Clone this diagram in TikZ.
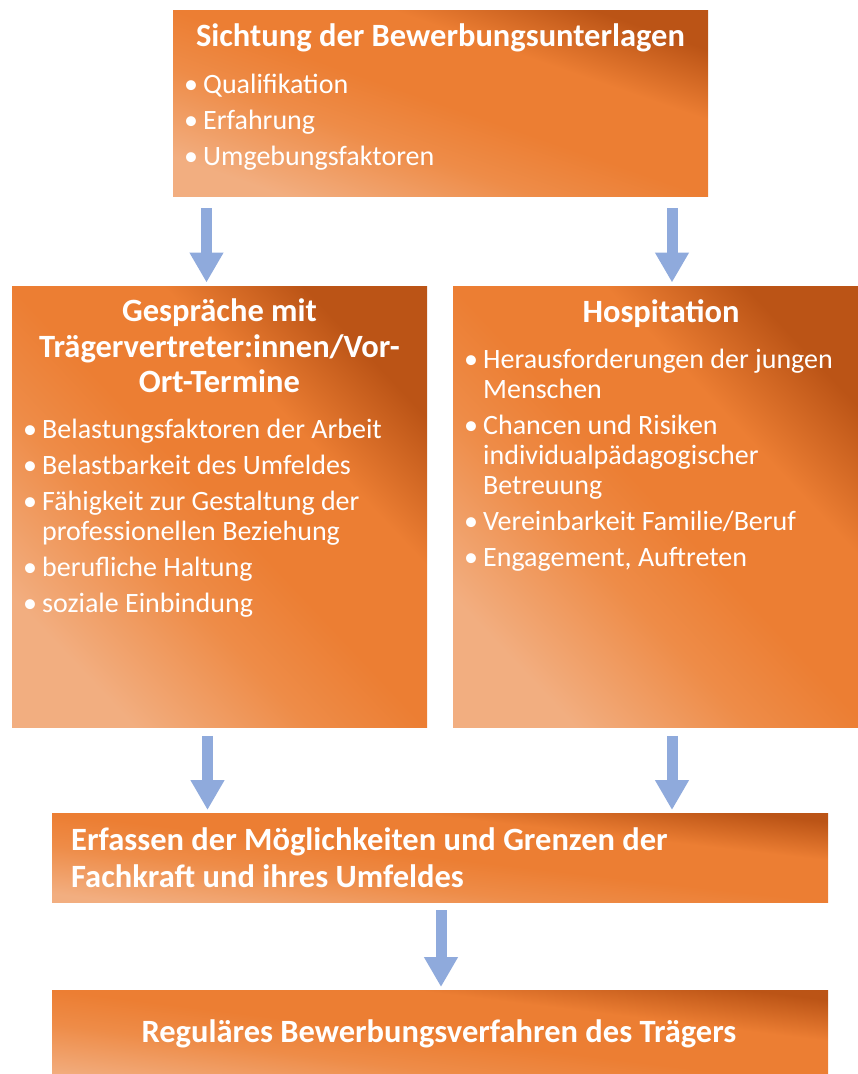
\documentclass[tikz,border=0pt]{standalone}
\usepackage{fontspec}
\setmainfont{Carlito}
\usetikzlibrary{arrows.meta}
\definecolor{boxdark}{HTML}{BB5416}
\definecolor{boxmid}{HTML}{EC7E33}
\definecolor{boxmidl}{HTML}{EE8C48}
\definecolor{boxlight}{HTML}{F2AE80}
\definecolor{arrowblue}{HTML}{8FAADC}
\pgfdeclareverticalshading{orng}{100bp}{color(0bp)=(boxlight); color(25bp)=(boxlight); color(40bp)=(boxmidl); color(50bp)=(boxmid); color(63bp)=(boxmid); color(75bp)=(boxdark); color(100bp)=(boxdark)}
\newcommand{\bitem}[1]{\par\hangindent=19pt\hangafter=1\noindent\makebox[19pt][l]{\textbullet}#1}
\newcommand{\regfont}{\fontsize{28}{30}\selectfont}
\newcommand{\titfont}{\bfseries\fontsize{32.5}{35.5}\selectfont}
\tikzset{
  box/.style={draw=none, shading=orng, inner sep=0pt, anchor=north west},
  txt/.style={inner sep=0pt, text=white},
  flow/.style={draw=arrowblue, line width=11pt, -{Triangle[width=32pt,length=30pt]}},
}
\begin{document}
\begin{tikzpicture}[x=1pt,y=-1pt]
\useasboundingbox (0,0) rectangle (858,1074);
% boxes
\node[box, shading angle=-19.2, minimum width=535pt, minimum height=186pt] (sicht) at (173,10) {};
\node[box, shading angle=-46.7, minimum width=415pt, minimum height=441pt] (gespr) at (12,286.5) {};
\node[box, shading angle=-46.7, minimum width=416pt, minimum height=441pt] (hosp) at (453,286.5) {};
\node[box, shading angle=-6.5, minimum width=776pt, minimum height=89pt] (erf) at (52,813) {};
\node[box, shading angle=-7.0, minimum width=776pt, minimum height=95pt] (reg) at (52,990) {};
% texts
\node[txt, anchor=base] (sichtT) at (440.5,46) {\titfont Sichtung der Bewerbungsunterlagen};
\node[txt, anchor=base west] (sichtL) at (184,93) {\parbox[t]{400pt}{\regfont\raggedright\parskip=6pt
  \bitem{Qualifikation}\bitem{Erfahrung}\bitem{Umgebungsfaktoren}}};
\node[txt, anchor=base] (gesprT) at (219.5,321.5) {\parbox[t]{410pt}{\centering\titfont Gespräche mit\\Trägervertreter:innen/Vor-\\Ort-Termine}};
\node[txt, anchor=base west] (gesprL) at (23,438) {\parbox[t]{400pt}{\regfont\raggedright\parskip=6pt
  \bitem{Belastungsfaktoren der Arbeit}\bitem{Belastbarkeit des Umfeldes}\bitem{Fähigkeit zur Gestaltung der\newline professionellen Beziehung}\bitem{berufliche Haltung}\bitem{soziale Einbindung}}};
\node[txt, anchor=base] (hospT) at (661,322) {\titfont Hospitation};
\node[txt, anchor=base west] (hospL) at (464,368) {\parbox[t]{400pt}{\regfont\raggedright\parskip=6pt
  \bitem{Herausforderungen der jungen\newline Menschen}\bitem{Chancen und Risiken\newline individualpädagogischer\newline Betreuung}\bitem{Vereinbarkeit Familie/Beruf}\bitem{Engagement, Auftreten}}};
\node[txt, anchor=base west] (erfT) at (71,850) {\parbox[t]{720pt}{\raggedright\bfseries\fontsize{32.5}{37}\selectfont Erfassen der Möglichkeiten und Grenzen der\\Fachkraft und ihres Umfeldes}};
\node[txt, anchor=base] (regT) at (439,1042) {\titfont Reguläres Bewerbungsverfahren des Trägers};
% connectors
\coordinate (a1) at ([xshift=33.5pt]sicht.south west);
\coordinate (a2) at ([xshift=499pt]sicht.south west);
\coordinate (a3) at ([xshift=195.5pt]gespr.south west);
\coordinate (a4) at ([xshift=219pt]hosp.south west);
\coordinate (a5) at ([xshift=389pt]erf.south west);
\draw[flow, shorten <=12pt, shorten >=4pt] (a1) -- (a1 |- gespr.north);
\draw[flow, shorten <=12pt, shorten >=4pt] (a2) -- (a2 |- hosp.north);
\draw[flow, shorten <=8pt, shorten >=3pt] (a3) -- (a3 |- erf.north);
\draw[flow, shorten <=8pt, shorten >=3pt] (a4) -- (a4 |- erf.north);
\draw[flow, shorten <=8pt, shorten >=3pt] (a5) -- (a5 |- reg.north);
\end{tikzpicture}
\end{document}
